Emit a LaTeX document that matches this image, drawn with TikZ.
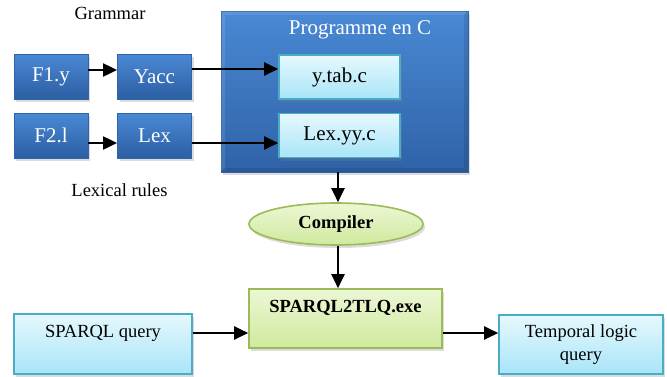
\documentclass[tikz,border=0pt]{standalone}
\usepackage{fontspec}
\setmainfont{Liberation Serif}
\usetikzlibrary{shapes.geometric,arrows.meta,shadows,calc}
\definecolor{dbtop}{HTML}{4A89D5}
\definecolor{dbbot}{HTML}{2C5EA2}
\definecolor{dbline}{HTML}{2F64AA}
\definecolor{cytop}{HTML}{E6F8FE}
\definecolor{cybot}{HTML}{A8E5F8}
\definecolor{cyline}{HTML}{4BACC6}
\definecolor{grtop}{HTML}{EDF7D5}
\definecolor{grbot}{HTML}{CFE99D}
\definecolor{grline}{HTML}{9BBB59}
\tikzset{
  shad/.style={drop shadow={opacity=0.28,shadow xshift=2pt,shadow yshift=-3pt}},
  darkbox/.style={rectangle,shad,top color=dbtop,bottom color=dbbot,draw=dbline,line width=0.8pt,
    inner sep=0pt,minimum width=74pt,minimum height=45pt,text=white,font=\fontsize{21}{24}\selectfont},
  cyanbox/.style={rectangle,shad,top color=cytop,bottom color=cybot,draw=cyline,line width=1.6pt,
    inner sep=0pt,font=\fontsize{18.5}{23}\selectfont,align=center},
  greenbox/.style={shad,top color=grtop,bottom color=grbot,draw=grline,line width=1.6pt,inner sep=0pt},
  plain/.style={font=\fontsize{18.5}{22}\selectfont},
  arr/.style={line width=2pt,-{Triangle[length=14pt,width=13pt]}}
}
\begin{document}
\begin{tikzpicture}[x=1pt,y=-1pt]
\useasboundingbox (0,0) rectangle (667,376);
% labels
\node[plain] (gram) at (110,13) {Grammar};
\node[plain] (lexr) at (119.5,190) {Lexical rules};
% left boxes
\node[darkbox] (f1) at (51,76.5) {F1.y};
\node[darkbox] (yacc) at (154.5,76.5) {Yacc};
\node[darkbox] (f2) at (51,135.5) {F2.l};
\node[darkbox] (lex) at (154.5,135.5) {Lex};
% big box
\node[rectangle,shad,top color=dbtop,bottom color=dbbot!90!dbtop,draw=dbline,line width=0.8pt,
  minimum width=247pt,minimum height=161pt,inner sep=0pt] (big) at (344.5,91.5) {};
\draw[white,opacity=0.10,line width=4pt] ([xshift=2.5pt,yshift=2.5pt]big.south west) |- ([xshift=-2.5pt,yshift=-2.5pt]big.north east);
\draw[black,opacity=0.10,line width=4pt] ([xshift=2.5pt,yshift=2.5pt]big.south west) -| ([xshift=-2.5pt,yshift=-2.5pt]big.north east);
\node[text=white,font=\fontsize{21}{24}\selectfont] (title) at (360,30) {Programme en C};
\node[cyanbox,minimum width=121pt,minimum height=44pt,font=\fontsize{21}{24}\selectfont] (ytab) at (339.5,77) {y.tab.c};
\node[cyanbox,minimum width=121pt,minimum height=44pt,font=\fontsize{21}{24}\selectfont] (lexyy) at (339.5,135.5) {Lex.yy.c};
% compiler
\node[ellipse,greenbox,minimum width=174pt,minimum height=42pt,font=\bfseries\fontsize{18.5}{22}\selectfont] (comp) at (336,224) {\raisebox{-3pt}{Compiler}};
% exe
\node[rectangle,greenbox,minimum width=193pt,minimum height=59pt,
  label={[yshift=10.5pt,font=\bfseries\fontsize{18.5}{22}\selectfont]center:SPARQL2TLQ.exe}] (exe) at (345.5,318.5) {};
% bottom boxes
\node[cyanbox,minimum width=178pt,minimum height=60pt,
  label={[yshift=11pt,font=\fontsize{18.5}{22}\selectfont]center:SPARQL query}] (sq) at (103,344) {};
\node[cyanbox,minimum width=164pt,minimum height=59pt] (tl) at (581,344.5) {Temporal logic\\query};
% arrows
\draw[arr] ([yshift=6.5pt]f1.east) -- ([yshift=6.5pt]f1.east -| yacc.west);
\draw[arr] ([yshift=-7.5pt]f2.east) -- ([yshift=-7.5pt]f2.east -| lex.west);
\draw[arr] ([yshift=7.5pt]yacc.east) -- ([yshift=7.5pt]yacc.east -| ytab.west);
\draw[arr] ([yshift=-7.5pt]lex.east) -- ([yshift=-7.5pt]lex.east -| lexyy.west);
\draw[arr] ([xshift=-6.5pt]big.south) -- ([xshift=-6.5pt]big.south |- comp.north);
\draw[arr] ([xshift=2pt]comp.south) -- ([xshift=2pt]comp.south |- exe.north);
\draw[arr] ([yshift=11pt]sq.east) -- ([yshift=11pt]sq.east -| exe.west);
\draw[arr] ([yshift=-14.5pt]exe.east) -- ([yshift=-14.5pt]exe.east -| tl.west);
\end{tikzpicture}
\end{document}
